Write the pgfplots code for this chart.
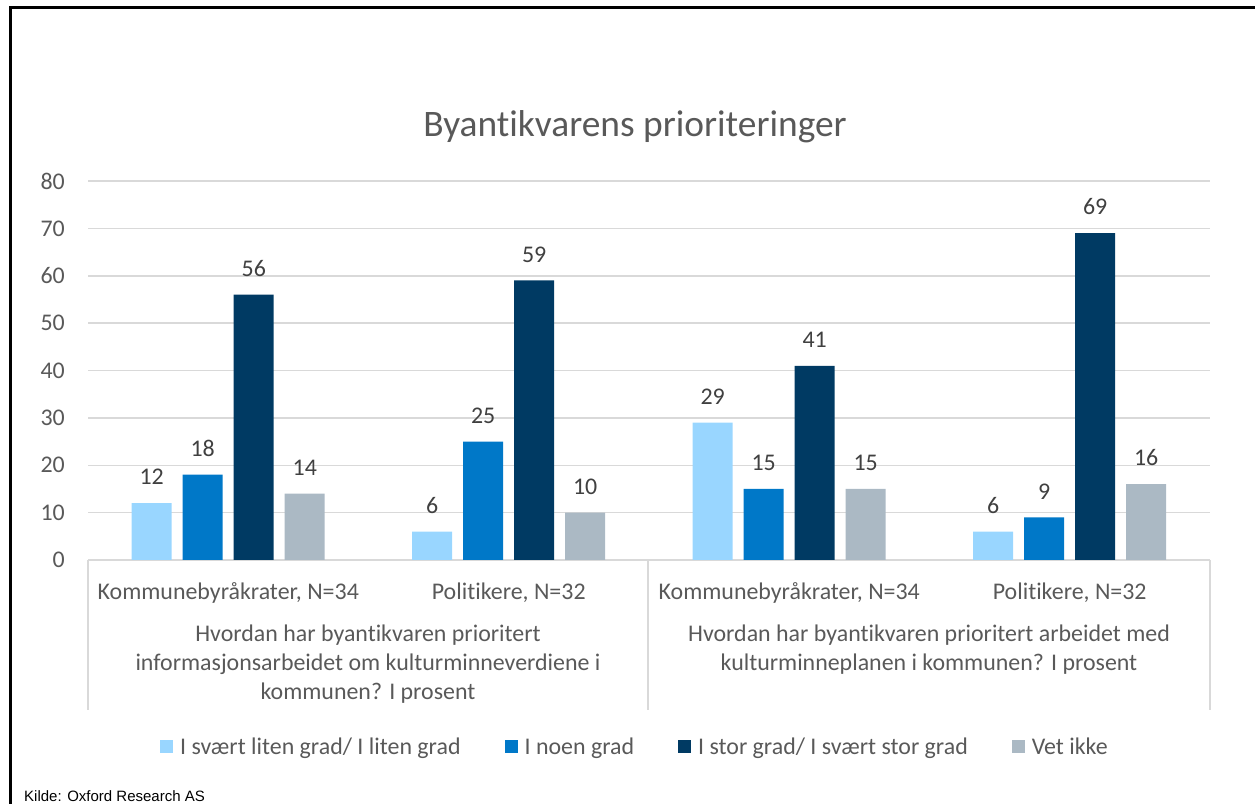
\documentclass[border=0pt]{standalone}
\usepackage{fontspec}
\setmainfont{Carlito}[Ligatures=NoCommon]
\newfontfamily\arialfont{Liberation Sans}
\usepackage{pgfplots}
\pgfplotsset{compat=1.18}
\definecolor{c1}{RGB}{153,214,255}
\definecolor{c2}{RGB}{0,120,200}
\definecolor{c3}{RGB}{0,58,99}
\definecolor{c4}{RGB}{171,185,196}
\definecolor{gridgray}{RGB}{217,217,217}
\definecolor{txt}{RGB}{89,89,89}
\definecolor{lbl}{RGB}{64,64,64}
\newcommand{\fs}{\fontsize{23.9}{28}\selectfont}
\pgfplotsset{sq legend/.style={legend image code/.code={\fill[##1] (0pt,-6.5pt) rectangle (13pt,6.5pt);}}}
\begin{document}
\begin{tikzpicture}[x=1pt,y=1pt]
\path[use as bounding box] (0,0) rectangle (1255,803);
\begin{scope}
\clip (0,0) rectangle (1255,803);
\draw[line width=3pt] (10.5,-5) -- (10.5,795.5) -- (1262,795.5);
\node[anchor=base west, inner sep=0pt, font=\arialfont\fontsize{15}{18}\selectfont] at (24,2) {Kilde: Oxford Research AS};
\end{scope}
\node[anchor=base, inner sep=0pt, text=txt, font=\fontsize{37.4}{44}\selectfont] at (635,666) {Byantikvarens prioriteringer};
\begin{axis}[
  at={(88pt,243pt)}, anchor=south west,
  scale only axis, width=1122pt, height=379pt,
  xmin=-0.5, xmax=3.5, ymin=0, ymax=80,
  ybar=11pt, bar width=40pt,
  axis line style={draw=none},
  major tick length=0pt,
  ytick={0,10,...,80},
  ymajorgrids, grid style={gridgray, line width=1.5pt},
  xtick={0,1,2,3},
  xticklabels={{Kommunebyråkrater, N=34},{Politikere, N=32},{Kommunebyråkrater, N=34},{Politikere, N=32}},
  /pgf/number format/assume math mode=true,
  tick label style={font=\fs, text=txt, inner sep=0pt},
  yticklabel style={anchor=east, xshift=-23pt},
  xticklabel style={anchor=base, yshift=-39pt},
  nodes near coords,
  nodes near coords style={anchor=south, inner sep=0pt, yshift=18pt, font=\fs, text=lbl},
  legend columns=4,
  legend style={at={(axis description cs:0.0641,-0.4921)}, anchor=west, draw=none, fill=none,
    inner sep=0pt, font=\fs, text=txt, nodes={inner sep=0pt},
    /tikz/every odd column/.append style={column sep=7pt},
    /tikz/every even column/.append style={column sep=44pt}},
]
\addplot[fill=c1, draw=none, sq legend] coordinates {(0,12) (1,6) (2,29) (3,6)};
\addplot[fill=c2, draw=none, sq legend] coordinates {(0,18) (1,25) (2,15) (3,9)};
\addplot[fill=c3, draw=none, sq legend] coordinates {(0,56) (1,59) (2,41) (3,69)};
\addplot[fill=c4, draw=none, sq legend] coordinates {(0,14) (1,10) (2,15) (3,16)};
\legend{I svært liten grad/ I liten grad, I noen grad, I stor grad/ I svært stor grad, Vet ikke}
\end{axis}
\draw[gridgray, line width=1.5pt] (88,243) -- (88,93);
\draw[gridgray, line width=1.5pt] (648,243) -- (648,93);
\draw[gridgray, line width=1.5pt] (1210,243) -- (1210,93);
\begin{scope}[every node/.style={anchor=base, inner sep=0pt, text=txt, font=\fs}]
\node at (368,161) {Hvordan har byantikvaren prioritert};
\node at (368,132) {informasjonsarbeidet om kulturminneverdiene i};
\node at (368,103) {kommunen? I prosent};
\node at (929,161) {Hvordan har byantikvaren prioritert arbeidet med};
\node at (929,132) {kulturminneplanen i kommunen? I prosent};
\end{scope}
\end{tikzpicture}
\end{document}
